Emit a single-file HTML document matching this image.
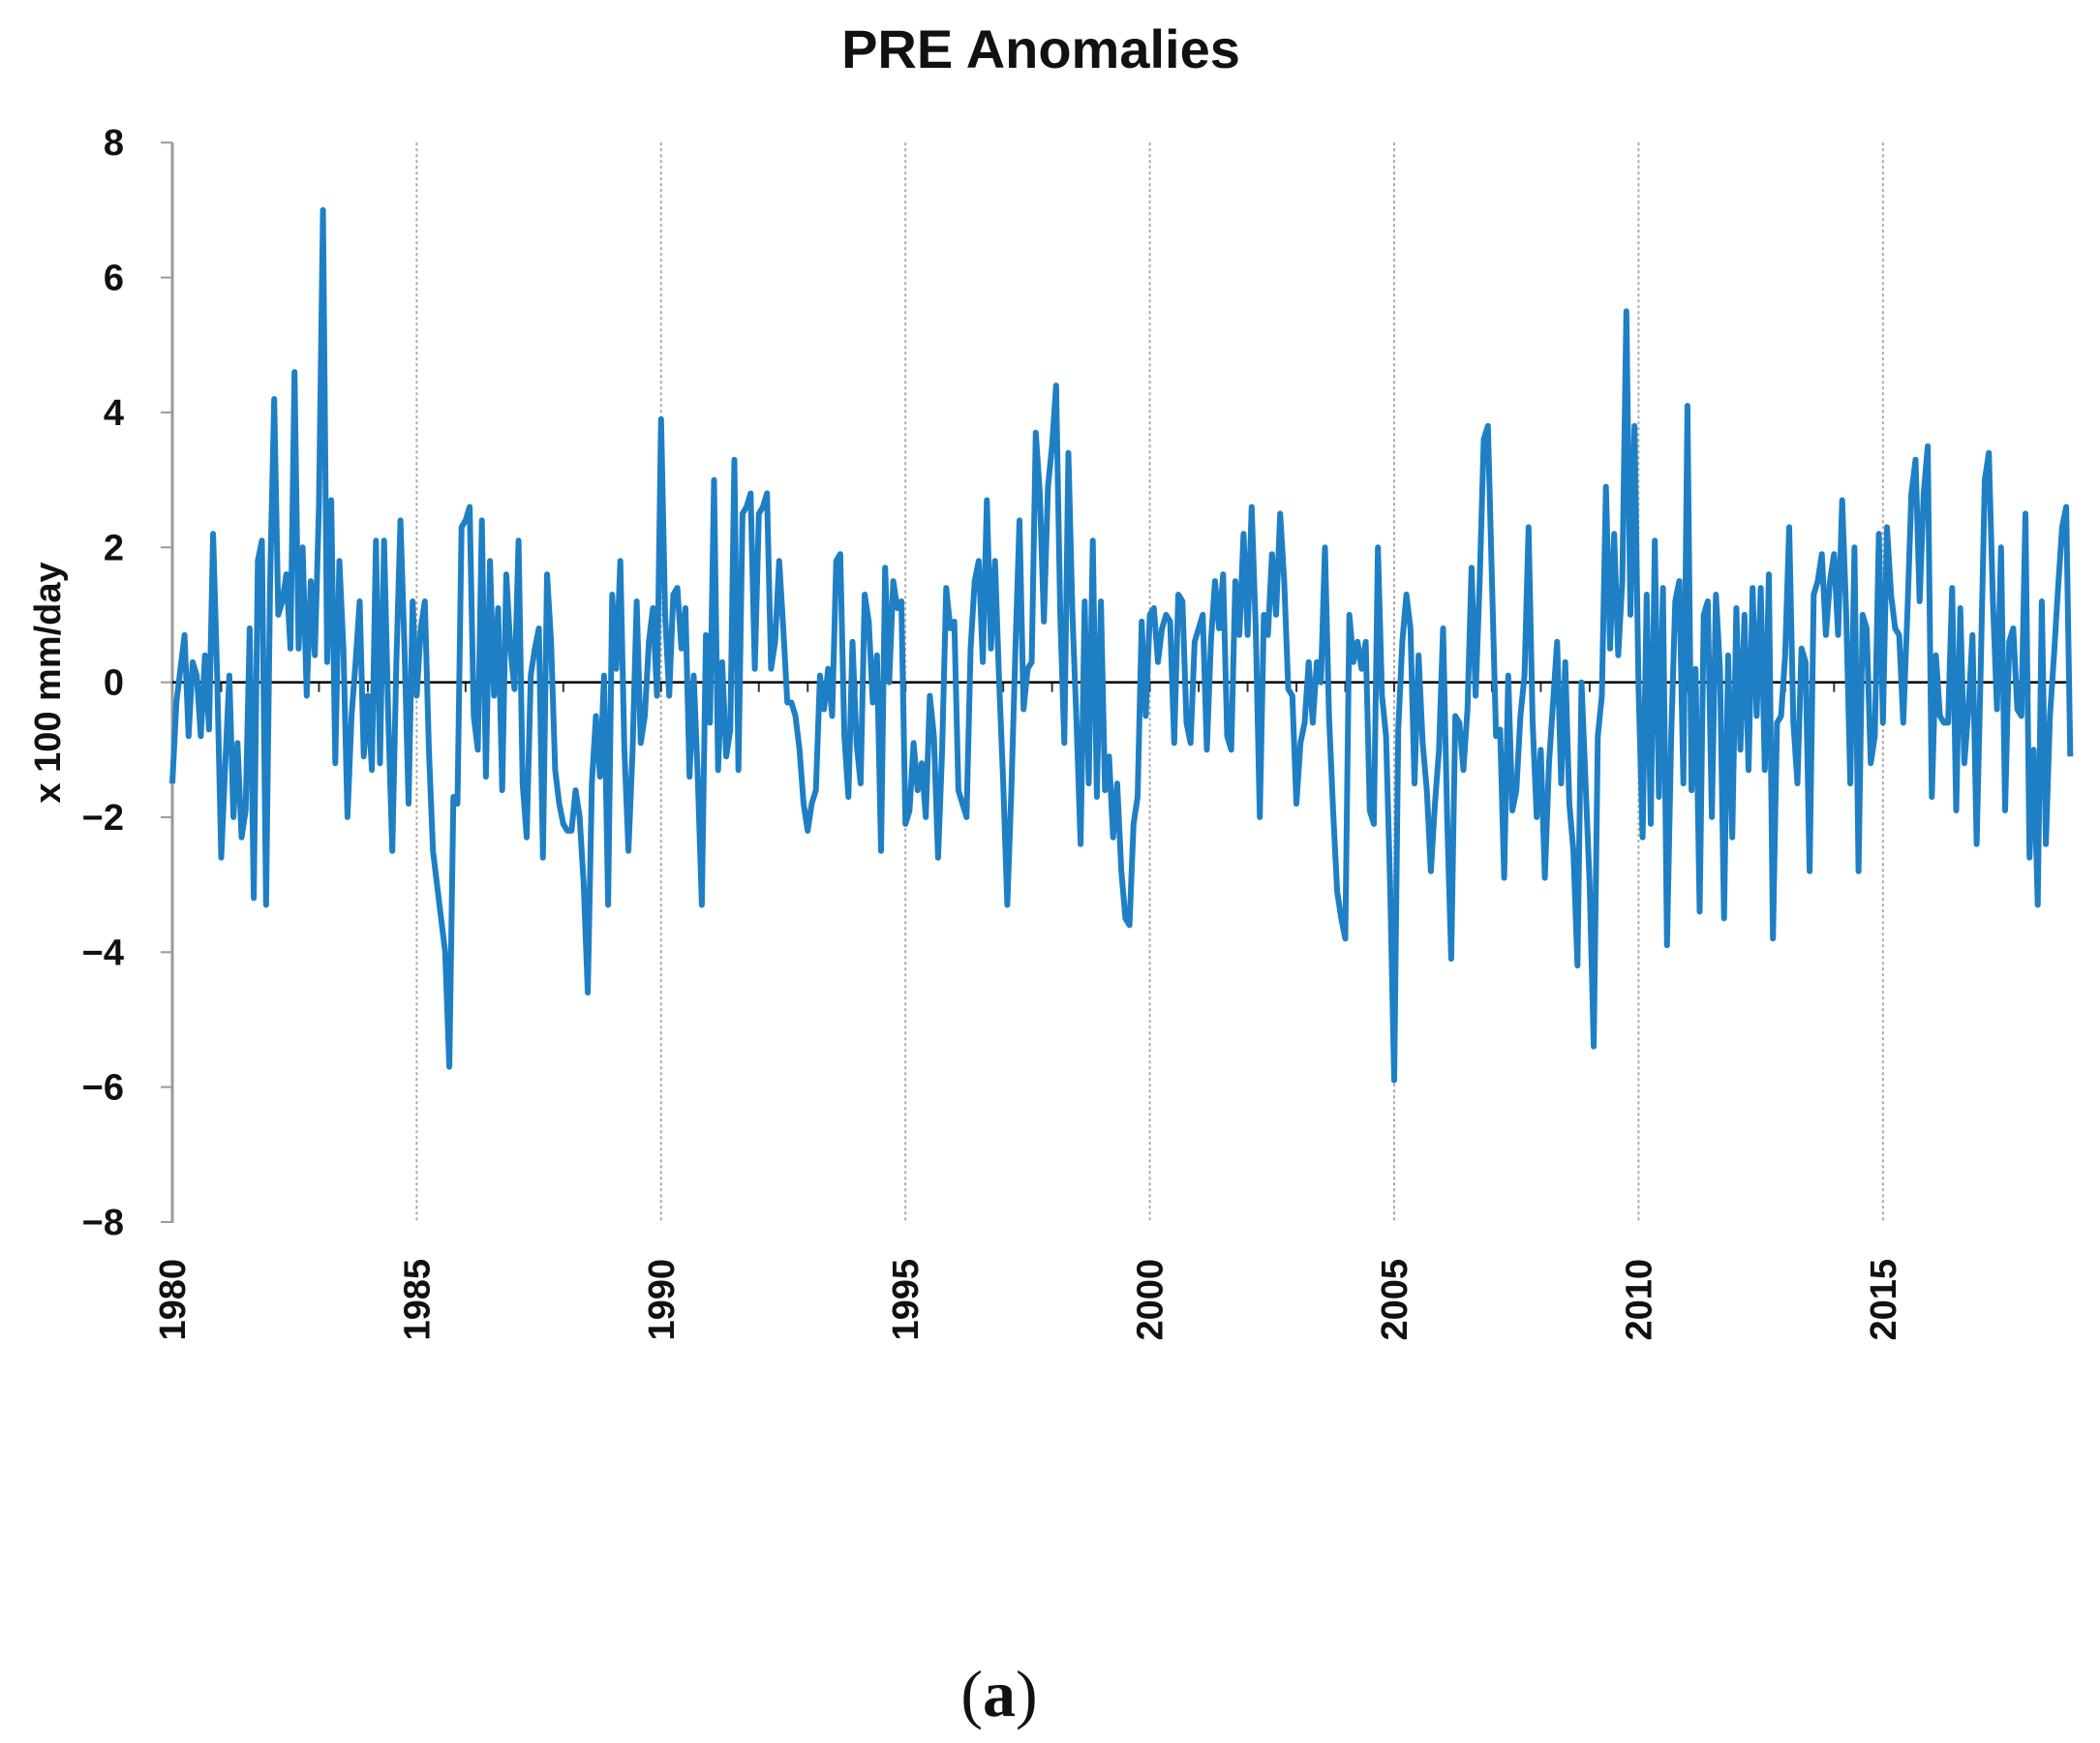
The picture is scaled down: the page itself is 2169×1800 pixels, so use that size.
<!DOCTYPE html>
<html><head><meta charset="utf-8">
<style>
html,body{margin:0;padding:0;background:#fff;}
svg{display:block;font-family:"Liberation Sans",sans-serif;}
</style></head>
<body>
<svg id="chart" width="2169" height="1800" viewBox="0 0 2169 1800">
<text x="1075" y="70" text-anchor="middle" font-size="56" font-weight="bold" fill="#111">PRE Anomalies</text>
<text transform="translate(62,705) rotate(-90)" text-anchor="middle" font-size="38" font-weight="bold" fill="#111">x 100 mm/day</text>
<text x="1032" y="1772" text-anchor="middle" font-size="68" font-family="Liberation Serif,serif" fill="#111">(<tspan font-weight="bold">a</tspan>)</text>
<g id="grid"></g><g id="axes"></g><g id="series"></g>
</svg>
<script>
const startYear = 1980;
const yTicks = [8, 6, 4, 2, 0, -2, -4, -6, -8];
const yTickLabels = ["8", "6", "4", "2", "0", "\u22122", "\u22124", "\u22126", "\u22128"];
const xTicks = [1980, 1985, 1990, 1995, 2000, 2005, 2010, 2015];
const xTickLabels = ["1980", "1985", "1990", "1995", "2000", "2005", "2010", "2015"];
const anomalies = [
-1.5,-0.3,0.2,0.7,-0.8,0.3,0.1,-0.8,0.4,-0.7,2.2,0.1,
-2.6,-1.2,0.1,-2.0,-0.9,-2.3,-1.9,0.8,-3.2,1.8,2.1,-3.3,
1.5,4.2,1.0,1.2,1.6,0.5,4.6,0.5,2.0,-0.2,1.5,0.4,
2.6,7.0,0.3,2.7,-1.2,1.8,0.5,-2.0,-0.5,0.3,1.2,-1.1,
-0.2,-1.3,2.1,-1.2,2.1,-0.5,-2.5,0.3,2.4,0.5,-1.8,1.2,
-0.2,0.8,1.2,-1.0,-2.5,-3.0,-3.5,-4.0,-5.7,-1.7,-1.8,2.3,
2.4,2.6,-0.5,-1.0,2.4,-1.4,1.8,-0.2,1.1,-1.6,1.6,0.5,
-0.1,2.1,-1.5,-2.3,0.1,0.5,0.8,-2.6,1.6,0.6,-1.3,-1.8,
-2.1,-2.2,-2.2,-1.6,-2.0,-3.0,-4.6,-1.5,-0.5,-1.4,0.1,-3.3,
1.3,0.2,1.8,-1.0,-2.5,-1.0,1.2,-0.9,-0.5,0.6,1.1,-0.2,
3.9,1.0,-0.2,1.3,1.4,0.5,1.1,-1.4,0.1,-1.4,-3.3,0.7,
-0.6,3.0,-1.3,0.3,-1.1,-0.7,3.3,-1.3,2.5,2.6,2.8,0.2,
2.5,2.6,2.8,0.2,0.6,1.8,0.8,-0.3,-0.3,-0.5,-1.0,-1.8,
-2.2,-1.8,-1.6,0.1,-0.4,0.2,-0.5,1.8,1.9,-0.8,-1.7,0.6,
-0.9,-1.5,1.3,0.9,-0.3,0.4,-2.5,1.7,0.0,1.5,1.1,1.2,
-2.1,-1.9,-0.9,-1.6,-1.2,-2.0,-0.2,-0.8,-2.6,-1.0,1.4,0.8,
0.9,-1.6,-1.8,-2.0,0.5,1.5,1.8,0.3,2.7,0.5,1.8,0.0,
-1.5,-3.3,-1.6,0.5,2.4,-0.4,0.2,0.3,3.7,2.8,0.9,2.9,
3.5,4.4,1.0,-0.9,3.4,1.0,-0.6,-2.4,1.2,-1.5,2.1,-1.7,
1.2,-1.6,-1.1,-2.3,-1.5,-2.8,-3.5,-3.6,-2.1,-1.7,0.9,-0.5,
1.0,1.1,0.3,0.8,1.0,0.9,-0.9,1.3,1.2,-0.6,-0.9,0.6,
0.8,1.0,-1.0,0.6,1.5,0.8,1.6,-0.8,-1.0,1.5,0.7,2.2,
0.7,2.6,0.8,-2.0,1.0,0.7,1.9,1.0,2.5,1.5,-0.1,-0.2,
-1.8,-0.9,-0.6,0.3,-0.6,0.3,0.0,2.0,-0.5,-1.9,-3.1,-3.5,
-3.8,1.0,0.3,0.6,0.2,0.6,-1.9,-2.1,2.0,-0.2,-0.8,-3.0,
-5.9,-0.7,0.6,1.3,0.8,-1.5,0.4,-0.9,-1.6,-2.8,-1.8,-1.0,
0.8,-2.0,-4.1,-0.5,-0.6,-1.3,-0.4,1.7,-0.2,1.5,3.6,3.8,
1.5,-0.8,-0.7,-2.9,0.1,-1.9,-1.6,-0.5,0.1,2.3,-0.6,-2.0,
-1.0,-2.9,-1.2,-0.3,0.6,-1.5,0.3,-1.8,-2.5,-4.2,0.0,-1.5,
-3.0,-5.4,-0.8,-0.2,2.9,0.5,2.2,0.4,1.5,5.5,1.0,3.8,
-0.1,-2.3,1.3,-2.1,2.1,-1.7,1.4,-3.9,-0.8,1.2,1.5,-1.5,
4.1,-1.6,0.2,-3.4,1.0,1.2,-2.0,1.3,0.2,-3.5,0.4,-2.3,
1.1,-1.0,1.0,-1.3,1.4,-0.5,1.4,-1.3,1.6,-3.8,-0.6,-0.5,
0.4,2.3,-0.6,-1.5,0.5,0.3,-2.8,1.3,1.5,1.9,0.7,1.5,
1.9,0.7,2.7,1.0,-1.5,2.0,-2.8,1.0,0.8,-1.2,-0.8,2.2,
-0.6,2.3,1.3,0.8,0.7,-0.6,1.0,2.8,3.3,1.2,2.8,3.5,
-1.7,0.4,-0.5,-0.6,-0.6,1.4,-1.9,1.1,-1.2,-0.4,0.7,-2.4,
0.2,3.0,3.4,1.2,-0.4,2.0,-1.9,0.6,0.8,-0.4,-0.5,2.5,
-2.6,-1.0,-3.3,1.2,-2.4,-0.5,0.4,1.4,2.3,2.6,-1.1
];

const NS = "http://www.w3.org/2000/svg";
const X0 = 178, PX_PER_YEAR = 50.48;
const Y0 = 704.6, PX_PER_UNIT = 69.67;
const TOP = Y0 - 8 * PX_PER_UNIT, BOTTOM = Y0 + 8 * PX_PER_UNIT + 1;
function xScale(year){ return X0 + (year - startYear) * PX_PER_YEAR; }
function yScale(v){ return Y0 - v * PX_PER_UNIT; }
function mk(tag, attrs, parent){
  const e = document.createElementNS(NS, tag);
  for (const k in attrs) e.setAttribute(k, attrs[k]);
  parent.appendChild(e);
  return e;
}
const grid = document.getElementById('grid');
const axes = document.getElementById('axes');
const series = document.getElementById('series');

xTicks.forEach((yr, i) => {
  const x = xScale(yr);
  if (i > 0) {
    const g = mk('line', {x1:x, y1:TOP, x2:x, y2:BOTTOM, stroke:'#aaa', 'stroke-width':2, 'stroke-dasharray':'3,3'}, grid);
    
    
  }
  const t = mk('text', {transform:'translate(' + (x + 13) + ',1300) rotate(-90)', 'text-anchor':'end', 'font-size':38, 'font-weight':'bold', fill:'#111'}, axes);
  t.textContent = xTickLabels[i];
  
  
});
for (let yr = startYear + 1; yr <= 2018; yr++) {
  const x = xScale(yr);
  const tk = mk('line', {x1:x, y1:Y0, x2:x, y2:Y0 + 10, stroke:'#333', 'stroke-width':2}, axes);
  
  
}
const yAxis = mk('line', {x1:X0, y1:TOP, x2:X0, y2:BOTTOM, stroke:'#999', 'stroke-width':3}, axes);


yTicks.forEach((v, i) => {
  const y = yScale(v);
  const tk = mk('line', {x1:X0 - 12, y1:y, x2:X0, y2:y, stroke:'#999', 'stroke-width':2}, axes);
  
  
  const t = mk('text', {x:128, y:y + 13, 'text-anchor':'end', 'font-size':38, 'font-weight':'bold', fill:'#111'}, axes);
  t.textContent = yTickLabels[i];
  
  
});
const zero = mk('line', {x1:X0, y1:Y0, x2:xScale(startYear + (anomalies.length - 1) / 12), y2:Y0, stroke:'#000', 'stroke-width':2.5}, axes);



const pts = anomalies.map((v, i) => xScale(startYear + i / 12).toFixed(1) + ',' + yScale(v).toFixed(1)).join(' ');
const line = mk('polyline', {points:pts, fill:'none', stroke:'#1f7fc4', 'stroke-width':6, 'stroke-linejoin':'round'}, series);


</script>
</body></html>
